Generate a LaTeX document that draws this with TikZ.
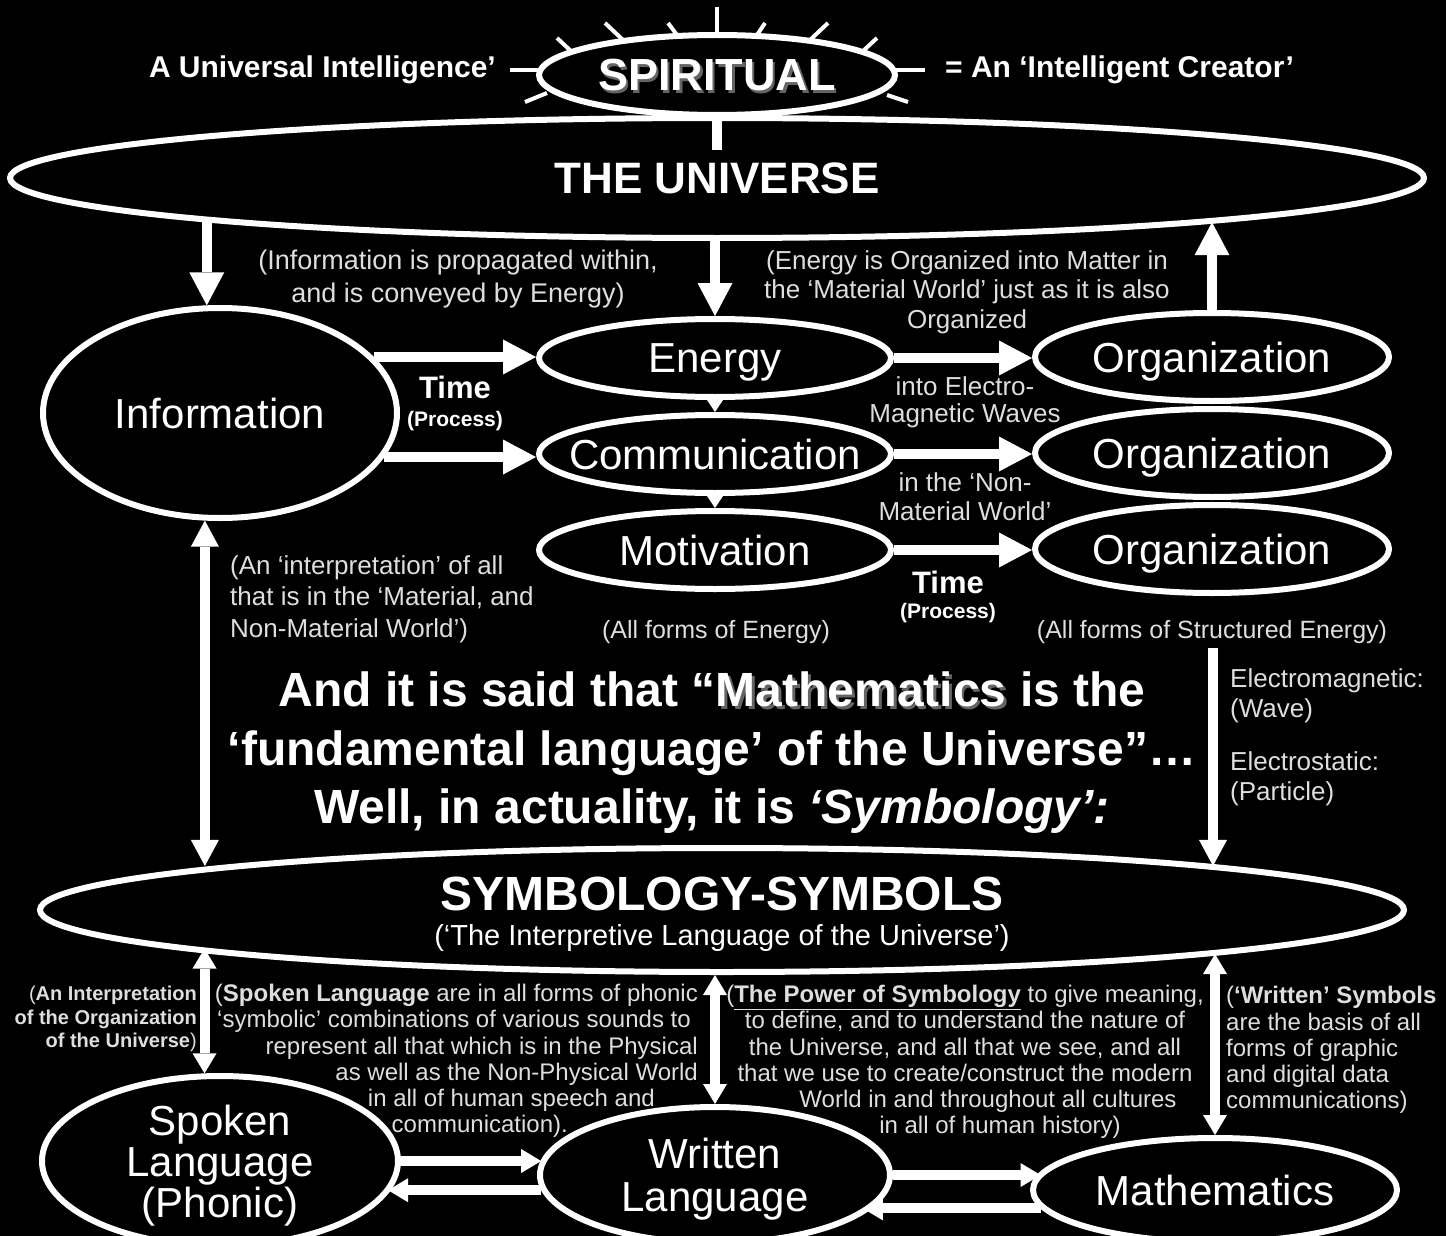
\documentclass[tikz,border=0pt]{standalone}
\usepackage{fontspec}
\setmainfont{Liberation Sans}
\usetikzlibrary{shapes.geometric, arrows.meta}

\definecolor{notegray}{RGB}{222,222,222}
\definecolor{shadegray}{RGB}{100,100,100}
\newcommand{\shadowtxt}[1]{\makebox[0pt][l]{\hspace{2.5pt}\raisebox{-2.5pt}{\textcolor{shadegray}{#1}}}\textcolor{white}{#1}}

\tikzset{
	oval/.style={ellipse, draw=white, fill=black, line width=6pt, inner sep=-30pt, text depth=0pt, text=white, align=center, font=\fontsize{42}{42}\selectfont},
	note/.style={text=notegray, align=center, inner sep=0pt, font=\fontsize{26}{29.5}\selectfont},
	lowtext/.style={text=notegray, inner sep=0pt, font=\fontsize{24}{26.2}\selectfont},
	toplbl/.style={text=white, inner sep=0pt, font=\fontsize{30}{34}\selectfont\bfseries},
	timelbl/.style={text=white, inner sep=0pt, font=\fontsize{31}{34}\selectfont\bfseries},
	proclbl/.style={text=white, inner sep=0pt, font=\fontsize{21}{24}\selectfont\bfseries},
	ray/.style={draw=white, line width=4pt},
	bigarr/.style={draw=white, line width=10pt, >={Triangle[width=35pt,length=33pt,line width=0pt]}},
	midarr/.style={draw=white, line width=10pt, >={Triangle[width=28pt,length=26pt,line width=0pt]}},
	lowarr/.style={draw=white, line width=10pt, >={Triangle[width=24pt,length=20pt,line width=0pt]}},
	tinyarr/.style={draw=white, line width=5pt, >={Triangle[width=16pt,length=12pt,line width=0pt]}},
}

\begin{document}
\begin{tikzpicture}[x=1pt, y=-1pt]
	%% background
	\fill[black] (0, 0) rectangle (1446, 1236);
	\useasboundingbox (0, 0) rectangle (1446, 1236);

	%% spiritual rays
	\foreach \xa/\ya/\xb/\yb in {717/7/717/33, 605/23/623/40, 668/23/677/35, 765/23/757/35, 828/23/810/40, 557/38/572/52, 877/38/862/52, 510/70/540/70, 893/70/925/70, 525/102/547/93, 887/95/908/102}
		\draw[ray] (\xa, \ya) -- (\xb, \yb);

	%% ovals
	\node[oval, minimum width=356pt, minimum height=80pt, font=\fontsize{45}{50}\selectfont\bfseries] (spirit) at (717, 75) {\shadowtxt{SPIRITUAL}};
	\node[oval, minimum width=1414pt, minimum height=120pt, font=\fontsize{44}{48}\selectfont\bfseries] (universe) at (717, 178) {THE UNIVERSE};

	\node[oval, minimum width=354pt, minimum height=210pt] (info) at (220, 413) {Information};
	\node[oval, minimum width=352pt, minimum height=78pt] (energy) at (715, 358) {Energy};
	\node[oval, minimum width=352pt, minimum height=78pt] (comm) at (715, 454) {Communication};
	\node[oval, minimum width=352pt, minimum height=78pt] (motiv) at (715, 550) {Motivation};
	\node[oval, minimum width=354pt, minimum height=88pt] (org1) at (1212, 357) {Organization};
	\node[oval, minimum width=354pt, minimum height=88pt] (org2) at (1212, 453) {Organization};
	\node[oval, minimum width=354pt, minimum height=88pt] (org3) at (1212, 549) {Organization};

	\node[oval, minimum width=1364pt, minimum height=124pt] (symb) at (722, 910) {};

	\node[oval, minimum width=356pt, minimum height=170pt, font=\fontsize{42}{41}\selectfont] (spoken) at (220, 1161) {Spoken\\Language\\(Phonic)};
	\node[oval, minimum width=350pt, minimum height=136pt, font=\fontsize{42}{43}\selectfont] (written) at (715, 1175) {Written\\Language};
	\node[oval, minimum width=364pt, minimum height=104pt] (math) at (1215, 1190) {Mathematics};

	%% titles
	\node[toplbl, anchor=east] (leftlbl) at (496, 70) {A Universal Intelligence’};
	\node[toplbl, anchor=west] (rightlbl) at (945, 70) {= An ‘Intelligent Creator’};
	\node[text=white, inner sep=0pt, font=\fontsize{48}{52}\selectfont\bfseries] (symbtitle) at (722, 894) {SYMBOLOGY-SYMBOLS};
	\node[text=white, inner sep=0pt, font=\fontsize{29}{33}\selectfont] (symbsub) at (722, 938) {(‘The Interpretive Language of the Universe’)};

	%% notes upper half
	\node[note, font=\fontsize{27}{33}\selectfont] (infonote) at (458, 279) {(Information is propagated within,\\and is conveyed by Energy)};
	\node[note] (energynote) at (967, 292) {(Energy is Organized into Matter in\\the ‘Material World’ just as it is also\\Organized};
	\node[note, font=\fontsize{26}{27}\selectfont] (wavenote) at (965, 402) {into Electro-\\Magnetic Waves};
	\node[note, font=\fontsize{26}{29}\selectfont] (nonmatnote) at (965, 497) {in the ‘Non-\\Material World’};
	\node[note, align=left, anchor=west, font=\fontsize{26}{31.5}\selectfont] (interpnote) at (230, 599) {(An ‘interpretation’ of all\\that is in the ‘Material, and\\Non-Material World’)};
	\node[note, font=\fontsize{25}{28}\selectfont] (energyforms) at (716, 632) {(All forms of Energy)};
	\node[note, font=\fontsize{25}{28}\selectfont] (structforms) at (1212, 632) {(All forms of Structured Energy)};
	\node[note, align=left, anchor=west, font=\fontsize{26}{30}\selectfont] (emnote) at (1230, 737) {Electromagnetic:\\(Wave)\\[23pt]Electrostatic:\\(Particle)};

	%% time labels
	\node[timelbl] (time1) at (455, 387) {Time};
	\node[proclbl] (proc1) at (455, 421) {(Process)};
	\node[timelbl] (time2) at (948, 582) {Time};
	\node[proclbl] (proc2) at (948, 613) {(Process)};

	%% statement
	\node[text=white, align=center, inner sep=0pt, font=\fontsize{48}{58.5}\selectfont\bfseries] (statement) at (712, 753)
		{And it is said that “\shadowtxt{Mathematics} is the\\‘fundamental language’ of the Universe”…\\Well, in actuality, it is \textit{‘Symbology’:}};

	%% notes lower half
	\node[lowtext, align=right, anchor=east, font=\fontsize{20}{23.5}\selectfont] (orgnote) at (197, 1019)
		{(\textbf{An Interpretation}\\\textbf{of the Organization}\\\textbf{of the Universe})};
	\node[lowtext, align=right, anchor=east] (spokennote) at (698, 1061)
		{(\textbf{Spoken Language} are in all forms of phonic\\‘symbolic’ combinations of various sounds to\rule{7pt}{0pt}\\represent all that which is in the Physical\\as well as the Non-Physical World\\in all of human speech and\rule{43pt}{0pt}\\communication).\rule{130pt}{0pt}};
	\node[lowtext, align=center] (powernote) at (965, 1062)
		{(\textbf{\underline{The Power of Symbology}} to give meaning,\\to define, and to understand the nature of\\the Universe, and all that we see, and all\\that we use to create/construct the modern\\\hspace*{46pt}World in and throughout all cultures\\\hspace*{70pt}in all of human history)};
	\node[lowtext, align=left, anchor=west] (writtennote) at (1226, 1050)
		{(\textbf{‘Written’ Symbols}\\are the basis of all\\forms of graphic\\and digital data\\communications)};

	%% spiritual to universe
	\coordinate (spiritfoot) at (717, 150);
	\draw[draw=white, line width=10pt] (spirit.south) -- (spiritfoot);

	%% universe arrows
	\draw[bigarr, ->] (info.97.6 |- universe.184.7) -- (info.97.6);
	\draw[bigarr, ->] (energy.north |- universe.south) -- (energy.north);
	\draw[bigarr, ->] (org1.north) -- (org1.north |- universe.355);

	%% information / energy rows
	\draw[bigarr, ->] (info.20.5) -- (info.20.5 -| energy.west);
	\draw[bigarr, ->] (info.345.9) -- (info.345.9 -| comm.west);
	\draw[bigarr, ->] (energy.east) -- (energy.east -| org1.west);
	\draw[bigarr, ->] (comm.east) -- (comm.east -| org2.west);
	\draw[bigarr, ->] (motiv.east) -- (motiv.east -| org3.west);
	\draw[tinyarr, ->] (energy.south) -- (comm.north);
	\draw[tinyarr, ->] (comm.south) -- (motiv.north);

	%% down to symbology
	\coordinate (sdown) at (1213, 648);
	\draw[midarr, <->] (info.262.4) -- (info.262.4 |- symb.175.5);
	\draw[midarr, ->] (sdown) -- (sdown |- symb.5);

	%% symbology to languages
	\draw[lowarr, <->] (spoken.100 |- symb.184.5) -- (spoken.100);
	\draw[lowarr, <->] (written.north |- symb.south) -- (written.north);
	\draw[lowarr, <->] (math.north |- symb.355) -- (math.north);

	%% language arrows
	\draw[lowarr, ->] (spoken.east) -- (spoken.east -| written.175);
	\draw[lowarr, ->] (written.185.7) -- (written.185.7 -| spoken.349.8);
	\draw[lowarr, ->] (written.east) -- (written.east -| math.174.4);
	\draw[lowarr, ->] (math.186.8) -- (math.186.8 -| written.345.9);
\end{tikzpicture}
\end{document}
